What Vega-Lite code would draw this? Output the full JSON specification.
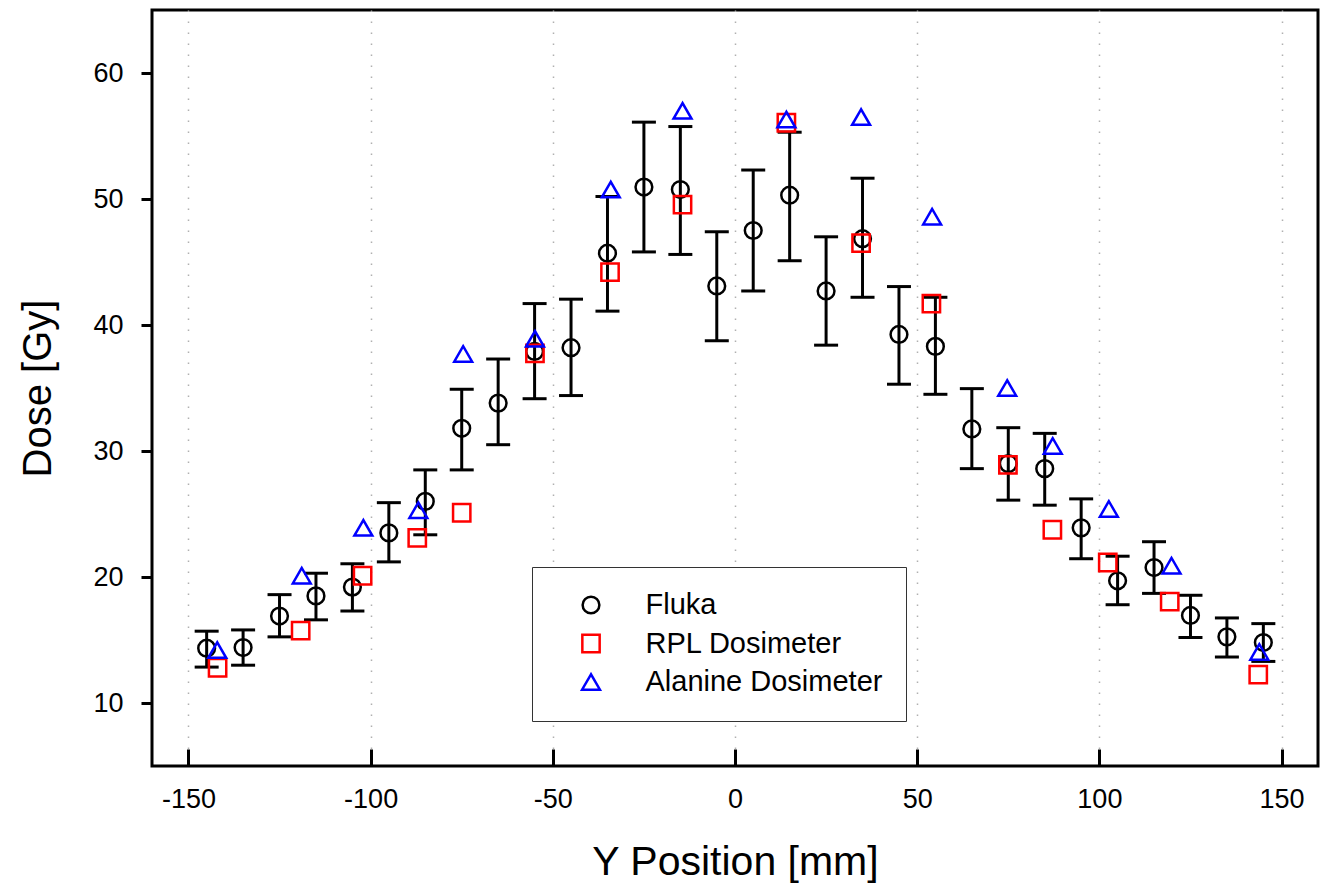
{
  "$schema": "https://vega.github.io/schema/vega-lite/v6.json",
  "width": 1166,
  "height": 756,
  "autosize": "none",
  "padding": {"left": 152, "top": 10, "right": 3, "bottom": 123},
  "background": "white",
  "config": {
    "view": {"stroke": "black", "strokeWidth": 3},
    "font": "Liberation Sans",
    "axis": {"labelFont": "Liberation Sans", "titleFont": "Liberation Sans", "labelColor": "black", "titleColor": "black", "titleFontWeight": "normal", "domain": false, "tickColor": "black", "tickWidth": 3}
  },
  "datasets": {
    "pts": [
      {"series": "Fluka", "pos": -145, "dose": 14.35, "lo": 12.85, "hi": 15.7},
      {"series": "Fluka", "pos": -135, "dose": 14.4, "lo": 13.0, "hi": 15.8},
      {"series": "Fluka", "pos": -125, "dose": 16.9, "lo": 15.25, "hi": 18.6},
      {"series": "Fluka", "pos": -115, "dose": 18.5, "lo": 16.6, "hi": 20.3},
      {"series": "Fluka", "pos": -105, "dose": 19.2, "lo": 17.3, "hi": 21.05},
      {"series": "Fluka", "pos": -95, "dose": 23.5, "lo": 21.2, "hi": 25.9},
      {"series": "Fluka", "pos": -85, "dose": 26.0, "lo": 23.35, "hi": 28.5},
      {"series": "Fluka", "pos": -75, "dose": 31.8, "lo": 28.5, "hi": 34.9},
      {"series": "Fluka", "pos": -65, "dose": 33.8, "lo": 30.5, "hi": 37.3},
      {"series": "Fluka", "pos": -55, "dose": 37.9, "lo": 34.15, "hi": 41.7},
      {"series": "Fluka", "pos": -45, "dose": 38.2, "lo": 34.4, "hi": 42.05},
      {"series": "Fluka", "pos": -35, "dose": 45.7, "lo": 41.1, "hi": 50.2},
      {"series": "Fluka", "pos": -25, "dose": 50.95, "lo": 45.8, "hi": 56.1},
      {"series": "Fluka", "pos": -15, "dose": 50.75, "lo": 45.6, "hi": 55.75},
      {"series": "Fluka", "pos": -5, "dose": 43.1, "lo": 38.75, "hi": 47.4},
      {"series": "Fluka", "pos": 5, "dose": 47.5, "lo": 42.7, "hi": 52.3},
      {"series": "Fluka", "pos": 15, "dose": 50.3, "lo": 45.1, "hi": 55.3},
      {"series": "Fluka", "pos": 25, "dose": 42.7, "lo": 38.4, "hi": 47.0},
      {"series": "Fluka", "pos": 35, "dose": 46.85, "lo": 42.2, "hi": 51.65},
      {"series": "Fluka", "pos": 45, "dose": 39.25, "lo": 35.3, "hi": 43.05},
      {"series": "Fluka", "pos": 55, "dose": 38.3, "lo": 34.5, "hi": 42.2},
      {"series": "Fluka", "pos": 65, "dose": 31.75, "lo": 28.6, "hi": 34.95},
      {"series": "Fluka", "pos": 75, "dose": 29.0, "lo": 26.1, "hi": 31.85},
      {"series": "Fluka", "pos": 85, "dose": 28.6, "lo": 25.7, "hi": 31.4},
      {"series": "Fluka", "pos": 95, "dose": 23.9, "lo": 21.45, "hi": 26.2},
      {"series": "Fluka", "pos": 105, "dose": 19.7, "lo": 17.8, "hi": 21.65},
      {"series": "Fluka", "pos": 115, "dose": 20.75, "lo": 18.7, "hi": 22.8},
      {"series": "Fluka", "pos": 125, "dose": 16.95, "lo": 15.2, "hi": 18.55},
      {"series": "Fluka", "pos": 135, "dose": 15.25, "lo": 13.65, "hi": 16.75},
      {"series": "Fluka", "pos": 145, "dose": 14.8, "lo": 13.3, "hi": 16.3},
      {"series": "RPL Dosimeter", "pos": -142, "dose": 12.8},
      {"series": "RPL Dosimeter", "pos": -119.2, "dose": 15.75},
      {"series": "RPL Dosimeter", "pos": -102.2, "dose": 20.1},
      {"series": "RPL Dosimeter", "pos": -87.2, "dose": 23.1},
      {"series": "RPL Dosimeter", "pos": -75, "dose": 25.1},
      {"series": "RPL Dosimeter", "pos": -54.9, "dose": 37.75},
      {"series": "RPL Dosimeter", "pos": -34.3, "dose": 44.2},
      {"series": "RPL Dosimeter", "pos": -14.4, "dose": 49.55},
      {"series": "RPL Dosimeter", "pos": 14.1, "dose": 56.05},
      {"series": "RPL Dosimeter", "pos": 34.6, "dose": 46.5},
      {"series": "RPL Dosimeter", "pos": 53.9, "dose": 41.7},
      {"series": "RPL Dosimeter", "pos": 74.9, "dose": 28.9},
      {"series": "RPL Dosimeter", "pos": 87.1, "dose": 23.75},
      {"series": "RPL Dosimeter", "pos": 102.3, "dose": 21.15},
      {"series": "RPL Dosimeter", "pos": 119.3, "dose": 18.05},
      {"series": "RPL Dosimeter", "pos": 143.6, "dose": 12.25},
      {"series": "Alanine Dosimeter", "pos": -142.1, "dose": 14.2},
      {"series": "Alanine Dosimeter", "pos": -118.9, "dose": 20.1},
      {"series": "Alanine Dosimeter", "pos": -102, "dose": 23.9},
      {"series": "Alanine Dosimeter", "pos": -86.9, "dose": 25.3},
      {"series": "Alanine Dosimeter", "pos": -74.6, "dose": 37.7},
      {"series": "Alanine Dosimeter", "pos": -54.9, "dose": 38.9},
      {"series": "Alanine Dosimeter", "pos": -34.1, "dose": 50.75},
      {"series": "Alanine Dosimeter", "pos": -14.4, "dose": 57.0},
      {"series": "Alanine Dosimeter", "pos": 14.1, "dose": 56.3},
      {"series": "Alanine Dosimeter", "pos": 34.6, "dose": 56.5},
      {"series": "Alanine Dosimeter", "pos": 54.1, "dose": 48.6},
      {"series": "Alanine Dosimeter", "pos": 74.7, "dose": 35.0},
      {"series": "Alanine Dosimeter", "pos": 87.2, "dose": 30.4},
      {"series": "Alanine Dosimeter", "pos": 102.6, "dose": 25.4},
      {"series": "Alanine Dosimeter", "pos": 119.8, "dose": 20.9},
      {"series": "Alanine Dosimeter", "pos": 143.9, "dose": 14.05}
    ]
  },
  "data": {"name": "pts"},
  "resolve": {"axis": {"x": "independent"}},
  "layer": [
    {
      "transform": [{"filter": "datum.series === 'Fluka'"}],
      "mark": {"type": "rule", "color": "black", "strokeWidth": 3},
      "encoding": {
        "x": {
          "field": "pos", "type": "quantitative",
          "scale": {"domain": [-160, 160], "nice": false, "zero": false},
          "axis": {
            "orient": "bottom",
            "title": "Y Position [mm]", "titleFontSize": 41, "titlePadding": 30,
            "values": [-150, -100, -50, 0, 50, 100, 150],
            "labelExpr": "datum.value < 0 ? '-' + abs(datum.value) : '' + datum.value",
            "labelFontSize": 27, "labelPadding": 20, "ticks": false,
            "grid": true, "gridColor": "#b0b0b0", "gridDash": [1.5, 9.5], "gridWidth": 1.5
          }
        },
        "y": {
          "field": "lo", "type": "quantitative",
          "scale": {"domain": [5, 65], "nice": false, "zero": false},
          "axis": {
            "title": "Dose [Gy]", "titleFontSize": 40, "titlePadding": 34,
            "values": [10, 20, 30, 40, 50, 60],
            "labelFontSize": 27, "labelPadding": 18, "tickSize": 11,
            "grid": false
          }
        },
        "y2": {"field": "hi"}
      }
    },
    {
      "transform": [{"filter": "datum.series === 'Fluka'"}],
      "mark": {"type": "tick", "orient": "horizontal", "color": "black", "size": 24, "thickness": 3, "opacity": 1},
      "encoding": {
        "x": {"field": "pos", "type": "quantitative", "axis": null},
        "y": {"field": "lo", "type": "quantitative"}
      }
    },
    {
      "transform": [{"filter": "datum.series === 'Fluka'"}],
      "mark": {"type": "tick", "orient": "horizontal", "color": "black", "size": 24, "thickness": 3, "opacity": 1},
      "encoding": {
        "x": {"field": "pos", "type": "quantitative", "axis": null},
        "y": {"field": "hi", "type": "quantitative"}
      }
    },
    {
      "mark": {"type": "point", "filled": false, "strokeWidth": 2.5, "opacity": 1},
      "encoding": {
        "x": {
          "field": "pos", "type": "quantitative",
          "axis": {
            "orient": "bottom", "offset": -17, "title": null, "labels": false, "grid": false,
            "values": [-150, -100, -50, 0, 50, 100, 150],
            "ticks": true, "tickSize": 17, "tickWidth": 3, "tickColor": "black", "domain": false
          }
        },
        "y": {"field": "dose", "type": "quantitative"},
        "color": {
          "field": "series", "type": "nominal",
          "scale": {"domain": ["Fluka", "RPL Dosimeter", "Alanine Dosimeter"], "range": ["#000000", "#ff0000", "#0000ff"]},
          "legend": {
            "title": null, "orient": "none", "legendX": 380, "legendY": 557,
            "padding": 23.5, "symbolOffset": 21, "labelOffset": 40,
            "rowPadding": 8.5, "symbolSize": 170, "symbolStrokeWidth": 2.5,
            "labelFontSize": 29, "labelFont": "Liberation Sans", "labelColor": "black", "labelLimit": 500,
            "strokeColor": "#333333", "fillColor": "white"
          }
        },
        "shape": {
          "field": "series", "type": "nominal",
          "scale": {"domain": ["Fluka", "RPL Dosimeter", "Alanine Dosimeter"], "range": ["circle", "square", "triangle-up"]}
        },
        "size": {
          "field": "series", "type": "nominal",
          "scale": {"domain": ["Fluka", "RPL Dosimeter", "Alanine Dosimeter"], "range": [280, 320, 380]},
          "legend": null
        }
      }
    }
  ]
}
